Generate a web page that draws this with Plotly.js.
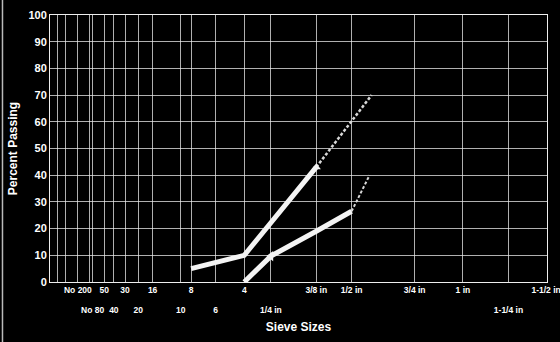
<!DOCTYPE html>
<html>
<head>
<meta charset="utf-8">
<script src="https://cdn.plot.ly/plotly-3.0.1.min.js"></script>
<style>
  html, body { margin: 0; padding: 0; background: #000; }
  #chart { width: 560px; height: 342px; }
</style>
</head>
<body>
<div id="chart"></div>
<script>
// Sieve openings (mm) and labels – x axis is the 0.45-power of opening size
const topTickSizes = [0.075, 0.3, 0.6, 1.18, 2.36, 4.75, 9.5, 12.5, 19, 25, 37.5];
const topTickLabels = ['No 200', '50', '30', '16', '8', '4', '3/8 in', '1/2 in', '3/4 in', '1 in', '1-1/2 in'];
const bottomTickSizes = [0.18, 0.425, 0.85, 2.0, 3.35, 6.3, 31.5];
const bottomTickLabels = ['No 80', '40', '20', '10', '6', '1/4 in', '1-1/4 in'];
const extraGridSizes = [0.0066, 0.024, 0.15];
const yTicks = [0, 10, 20, 30, 40, 50, 60, 70, 80, 90, 100];

// Gradation curves (sieve size mm, percent passing)
const upperSizes = [2.36, 4.75, 9.5];
const upperPassing = [5, 10, 43];
const upperTailSizes = [9.5, 12.5, 14.4];
const upperTailPassing = [43, 60, 70];
const lowerSizes = [4.75, 6.3, 9.5, 12.5];
const lowerPassing = [0, 9.7, 19, 26.5];
const lowerTailSizes = [12.5, 14.2];
const lowerTailPassing = [26.5, 40];

const P = 0.45;
const pw = s => Math.pow(s, P);

const FONT = 'Liberation Sans, Arial, sans-serif';

const gridSizes = extraGridSizes.concat(topTickSizes, bottomTickSizes).sort((a, b) => a - b);
const gridText = gridSizes.map(s => {
  const i = topTickSizes.indexOf(s);
  return i >= 0 ? topTickLabels[i] : '';
});

const traces = [
  {x: upperSizes.map(pw), y: upperPassing, mode: 'lines', line: {color: '#f4f4f4', width: 5}, hoverinfo: 'skip'},
  {x: upperTailSizes.map(pw), y: upperTailPassing, mode: 'lines', line: {color: '#d8d8d8', width: 2.5, dash: '3px,2px'}, hoverinfo: 'skip'},
  {x: lowerSizes.map(pw), y: lowerPassing, mode: 'lines', line: {color: '#f4f4f4', width: 5}, hoverinfo: 'skip'},
  {x: lowerTailSizes.map(pw), y: lowerTailPassing, mode: 'lines', line: {color: '#d8d8d8', width: 2, dash: '3px,2px'}, hoverinfo: 'skip'},
  {x: [pw(upperSizes[2])], y: [upperPassing[2]], mode: 'markers', marker: {symbol: 'triangle-up', size: 8, color: '#f4f4f4'}, hoverinfo: 'skip'},
  {x: [pw(lowerSizes[1])], y: [lowerPassing[1]], mode: 'markers', marker: {symbol: 'triangle-left', size: 9, color: '#f4f4f4'}, hoverinfo: 'skip'},
  {x: [pw(bottomTickSizes[0])], y: [0], xaxis: 'x2', mode: 'markers', marker: {size: 0, opacity: 0}, hoverinfo: 'skip'}
];

const layout = {
  width: 560, height: 342,
  paper_bgcolor: '#000', plot_bgcolor: '#000',
  margin: {l: 50, r: 13, t: 15, b: 60},
  showlegend: false,
  font: {family: FONT, color: '#fff', weight: 700},
  xaxis: {
    range: [0.026, 5.118],
    tickmode: 'array',
    tickvals: gridSizes.map(pw),
    ticktext: gridText,
    tickangle: 0,
    ticklabeloverflow: 'allow',
    tickfont: {size: 8.5, family: FONT, color: '#fff', weight: 700},
    showgrid: true, gridcolor: 'rgba(235,235,235,0.75)', gridwidth: 1,
    zeroline: false,
    showline: true, mirror: true, linecolor: '#eee', linewidth: 1,
    ticks: '',
    title: {text: 'Sieve Sizes', font: {size: 12, family: FONT, color: '#fff', weight: 700}, standoff: 28},
    automargin: false
  },
  xaxis2: {
    range: [0.026, 5.118],
    overlaying: 'x', anchor: 'y', side: 'bottom',
    tickmode: 'array',
    tickvals: bottomTickSizes.map(pw),
    ticktext: bottomTickLabels,
    tickangle: 0,
    ticklabeloverflow: 'allow',
    tickfont: {size: 8.5, family: FONT, color: '#fff', weight: 700},
    ticklabelstandoff: 21,
    showgrid: false, zeroline: false, showline: false, ticks: ''
  },
  yaxis: {
    range: [0, 100],
    tickmode: 'array', tickvals: yTicks,
    tickfont: {size: 11, family: FONT, color: '#fff', weight: 700},
    showgrid: true, gridcolor: 'rgba(235,235,235,0.75)', gridwidth: 1,
    zeroline: false,
    showline: true, mirror: true, linecolor: '#eee', linewidth: 1,
    ticks: '',
    title: {text: 'Percent Passing', font: {size: 12, family: FONT, color: '#fff', weight: 700}, standoff: 8},
    automargin: false
  },
  shapes: [
    {type: 'line', xref: 'paper', yref: 'paper', x0: -0.0956, x1: -0.0956, y0: -0.225, y1: 1.056,
     line: {color: '#bbb', width: 1.5}}
  ]
};

Plotly.newPlot('chart', traces, layout, {staticPlot: true, displayModeBar: false});
</script>
</body>
</html>
